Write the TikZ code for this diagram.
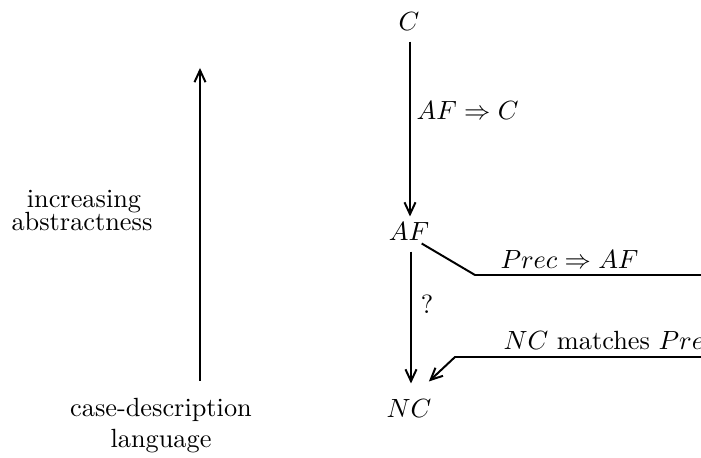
\documentclass[tikz,border=0pt]{standalone}
\usetikzlibrary{arrows.meta,calc}
\begin{document}
\begin{tikzpicture}[x=0.38pt,y=-0.38pt,
  conn/.style={line width=0.75pt},
  arr/.style={conn,-{Straight Barb[length=4.5pt,width=4.2pt,line width=0.75pt]}},
  lbl/.style={inner sep=0pt,font=\normalsize},
  nd/.style={inner sep=0pt}]
\useasboundingbox (0,0) rectangle (701,458);
\clip (0,0) rectangle (701,458);
% right column nodes
\node[nd] (C) at (409,22) {$C$};
\node[nd] (AF) at (409,232) {$AF$};
\node[nd] (NC) at (409,409) {$NC$};
% labels
\node[lbl,anchor=west] (l1) at (416,111) {$AF \Rightarrow C$};
\node[lbl] (q) at (427,304) {?};
\node[lbl,anchor=west] (l2) at (500,260) {$Prec \Rightarrow AF$};
\node[lbl,anchor=west] (l3) at (503,341) {$NC$ matches $Prec$};
% left side
\node[lbl] (inc) at (84,202) {increasing};
\node[lbl] (abs) at (82,222) {abstractness};
\node[lbl] (cdl) at (161,410) {case-description};
\node[lbl] (lang) at (161,441) {language};
\coordinate (lb) at (200,381);
\coordinate (lt) at (200,68);
\draw[arr] (lb) -- (lt);
% connectors
\draw[arr] ($(C.south)+(1,10)$) -- ($(AF.north)+(1,-6)$);
\draw[arr] ($(AF.south)+(2,10)$) -- ($(NC.north)+(2,-16)$);
\coordinate (p1) at (475,275);
\coordinate (p2) at (701,275);
\draw[conn] ($(AF.south east)+(-8,2)$) -- (p1) -- (p2);
\coordinate (m1) at (701,357);
\coordinate (m2) at (455,357);
\draw[arr] (m1) -- (m2) -- ($(NC.north east)+(-3,-18)$);
\end{tikzpicture}
\end{document}
